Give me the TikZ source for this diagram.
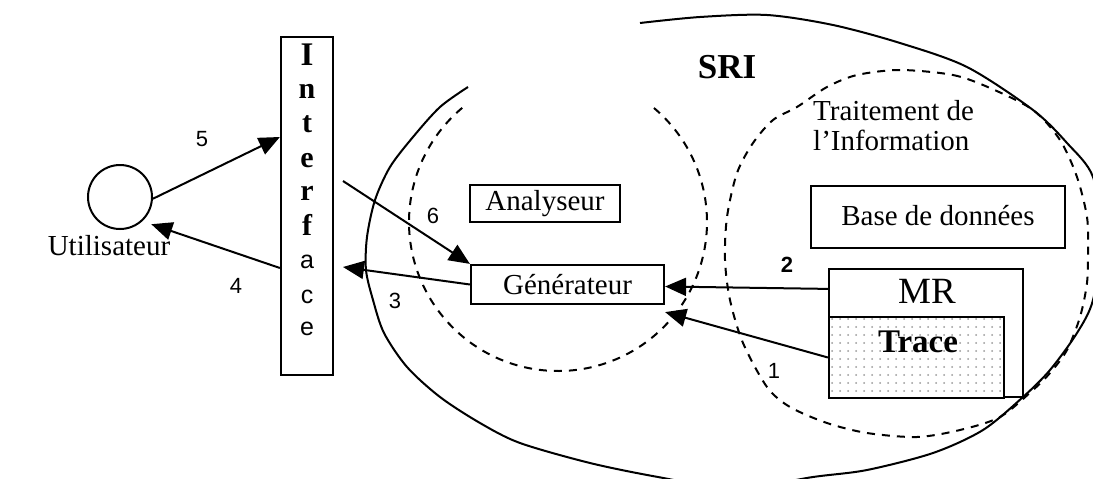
\documentclass[tikz,border=0pt]{standalone}
\usepackage{fontspec}
\setmainfont{Liberation Serif}
\setsansfont{Liberation Sans}
\usetikzlibrary{arrows.meta,patterns.meta}
\newcommand{\myfs}[1]{\fontsize{#1}{#1}\selectfont}
\begin{document}
\begin{tikzpicture}[x=1pt,y=-1pt,
  box/.style={draw, line width=2.2pt, rectangle, inner sep=0pt},
  txt/.style={font=\myfs{29}, inner sep=0pt},
  num/.style={font=\sffamily\myfs{22}, inner sep=0pt},
  iletter/.style={font=\bfseries\myfs{30}, inner sep=0pt, anchor=base},
  sletter/.style={font=\sffamily\myfs{25}, inner sep=0pt, anchor=base},
  arr/.style={line width=2pt, -{Triangle[length=21pt,width=18pt]}},
  curve/.style={line width=2pt},
  dcurve/.style={line width=2pt, dash pattern=on 8pt off 7pt},
]
\useasboundingbox (0,0) rectangle (1093,479);
\clip (0,0) rectangle (1093,479);

% outer SRI curve
\draw[curve] plot[smooth] coordinates {(468,87) (440,107) (413,137) (390,167) (375,200) (367,237) (366,270) (373,300) (384,333) (407,367) (440,397) (480,423) (520,443) (590,463) (658,477) (735,489) (813,477) (867,470) (933,453) (983,430) (1023,397) (1050,370) (1077,333) (1093,300) (1101,240) (1093,177) (1067,143) (1033,110) (967,67) (900,43) (833,25) (767,15) (700,17) (640,23)};

% dashed Analyseur region
\draw[dcurve] (558,222) ++(130:149pt) arc[start angle=130, end angle=411, radius=149pt];

% dashed Traitement region
\draw[dcurve] plot[smooth cycle] coordinates {(900,70) (953,75) (990,88) (1033,110) (1060,140) (1077,177) (1087,217) (1088,250) (1087,283) (1080,317) (1067,350) (1050,373) (1033,390) (1000,417) (960,430) (917,437) (867,433) (827,423) (790,407) (767,387) (743,343) (730,300) (725,260) (727,217) (737,173) (753,143) (773,120) (797,107) (827,87) (857,75)};

% user
\node[circle, draw, line width=2pt, minimum size=64pt, inner sep=0pt] (user) at (120,197) {};
\node[txt, anchor=base] (userlbl) at (109,255) {Utilisateur};

% interface
\node[box, minimum width=52pt, minimum height=338pt] (iface) at (307,206) {};
\node[font=\bfseries\myfs{33}, inner sep=0pt, anchor=base] (l1) at (307,65) {I};
\node[iletter] (l2) at (307,98) {n};
\node[iletter] (l3) at (307,132) {t};
\node[iletter] (l4) at (307,167) {e};
\node[iletter] (l5) at (307,200) {r};
\node[iletter] (l6) at (307,235) {f};
\node[sletter] (l7) at (307,268) {a};
\node[sletter] (l8) at (307,303) {c};
\node[sletter] (l9) at (307,335) {e};

% boxes
\node[box, minimum width=150pt, minimum height=37pt, font=\myfs{29}] (ana) at (545,203.5) {Analyseur};
\node[box, minimum width=193pt, minimum height=39pt, font=\myfs{29}] (gen) at (567.5,284.5) {Générateur};
\node[box, minimum width=254pt, minimum height=62pt, font=\myfs{29}, text depth=4pt] (bdd) at (938,217) {Base de données};
\node[box, fill=white, minimum width=194pt, minimum height=128pt] (mr) at (926,333) {};
\node[font=\myfs{37}, inner sep=0pt, anchor=base] (mrlbl) at (927,303) {MR};
\node[box, minimum width=175pt, minimum height=81pt, preaction={fill=white}, pattern={Dots[distance=8pt,radius=1pt]}, pattern color=gray!80] (trace) at (916.5,357.5) {};
\node[font=\bfseries\myfs{33}, inner sep=0pt, anchor=base] (tracelbl) at (918,352) {Trace};

% titles
\node[font=\bfseries\myfs{35}, inner sep=0pt, anchor=base] (sri) at (727,78) {SRI};
\node[txt, anchor=base west] (trait1) at (813,120) {Traitement de};
\node[txt, anchor=base west] (trait2) at (813,150) {l’Information};

% connectors
\coordinate (c6) at (343,181);
\coordinate (c3) at (343,267);
\draw[arr] (user.-3) -- ([yshift=69pt]iface.west);
\draw[arr] ([yshift=-62pt]iface.west) -- ([xshift=6pt,yshift=-6pt]user.-40);
\draw[arr] (c6) -- (gen.north west);
\draw[arr] (gen.west) -- (c3);
\draw[arr] ([yshift=-21pt]mr.north west) -- ([yshift=-2pt]gen.east);
\draw[arr] (trace.west) -- ([yshift=-7pt]gen.south east);

% numbers
\node[num] (n5) at (202,139) {5};
\node[num] (n4) at (236,286) {4};
\node[num] (n6) at (433,216) {6};
\node[num] (n3) at (395,301) {3};
\node[num, font=\sffamily\bfseries\myfs{22}] (n2) at (787,265) {2};
\node[num] (n1) at (774,371) {1};
\end{tikzpicture}
\end{document}
